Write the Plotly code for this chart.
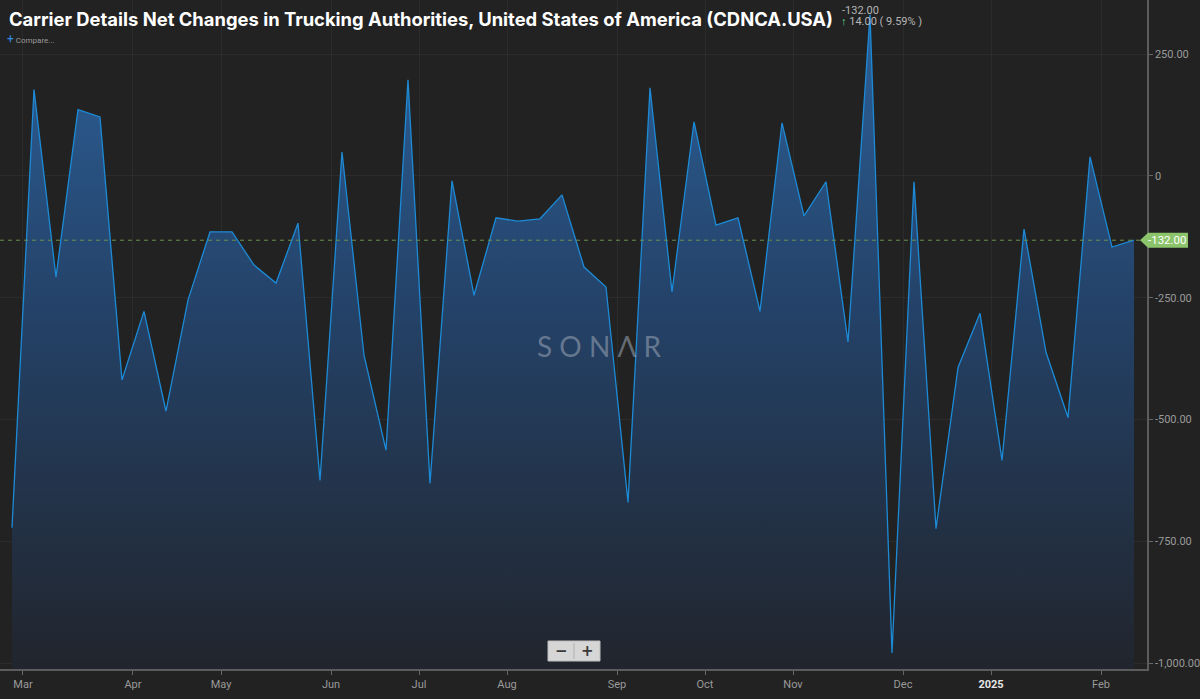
import pandas as pd
import plotly.graph_objects as go

# weekly readings, Fridays from 23 Feb 2024 to 14 Feb 2025
dates = pd.date_range("2024-02-23", "2025-02-14", freq="7D")
net_changes = [
    -722, 177, -208, 136, 121, -419, -278, -483, -255, -115,
    -115, -183, -220, -97, -625, 49, -368, -563, 197, -631,
    -10, -245, -86, -93, -88, -39, -187, -228, -670, 181,
    -238, 111, -101, -86, -278, 109, -82, -12, -341, 331,
    -979, -12, -724, -393, -282, -584, -109, -362, -496, 39,
    -146, -132,
]
y_ticks = [250, 0, -250, -500, -750, -1000]
y_tick_text = ["250.00", "0", "-250.00", "-500.00", "-750.00", "-1,000.00"]

last_val = net_changes[-1]
prev_val = net_changes[-2]
change = last_val - prev_val
pct = abs(change / prev_val) * 100

y_range = [-1012, 361]
x_idx = list(range(len(dates)))

# month ticks sit halfway between last point of a month and first of the next
tick_vals, tick_text = [], []
for i in range(1, len(dates)):
    if dates[i].month != dates[i - 1].month:
        tick_vals.append(i - 0.5)
        if dates[i].month == 1:
            tick_text.append("<b><span style='color:#e6e6e6'>%d</span></b>" % dates[i].year)
        else:
            tick_text.append(dates[i].strftime("%b"))

fig = go.Figure()

# baseline at the bottom of the plot so the area fills down to the axis
fig.add_trace(go.Scatter(
    x=x_idx, y=[y_range[0]] * len(x_idx), mode="lines",
    line=dict(width=0), hoverinfo="skip", showlegend=False,
))
fig.add_trace(go.Scatter(
    x=x_idx, y=net_changes, mode="lines",
    line=dict(color="#1c8ad6", width=1.3),
    fill="tonexty",
    fillgradient=dict(
        type="vertical",
        start=y_range[0], stop=max(net_changes),
        colorscale=[[0, "rgb(33,37,45)"], [0.55, "rgb(36,66,104)"], [1, "rgb(44,96,152)"]],
    ),
    showlegend=False,
))

# last value reference line + tag
fig.add_shape(type="line", xref="paper", x0=0, x1=1, yref="y", y0=last_val, y1=last_val,
              line=dict(color="#6b8f4c", width=1, dash="4px,4px"), layer="above")
fig.add_shape(type="path", xref="paper", xsizemode="pixel", xanchor=1,
              yref="y", ysizemode="pixel", yanchor=last_val,
              path="M -7,0 L 1,7.5 L 41,7.5 L 41,-7.5 L 1,-7.5 Z",
              fillcolor="#8cc46c", line=dict(width=0), layer="above")
fig.add_annotation(xref="paper", x=1, xanchor="left", xshift=-1, yref="y", y=last_val,
                   yanchor="middle", text="%.2f" % last_val, showarrow=False,
                   font=dict(family="Roboto", size=11.5, color="#ffffff"))

# zoom buttons
fig.add_shape(type="rect", xref="paper", yref="paper",
              x0=548 / 1147, x1=600 / 1147, y0=1 - 661 / 669, y1=1 - 641 / 669,
              fillcolor="#d6d6d6", line=dict(color="#bdbdbd", width=1), layer="above")
fig.add_shape(type="line", xref="paper", yref="paper",
              x0=574 / 1147, x1=574 / 1147, y0=1 - 659 / 669, y1=1 - 643 / 669,
              line=dict(color="#b0b0b0", width=1), layer="above")
for txt, px in [("\u2212", 561), ("+", 587)]:
    fig.add_annotation(xref="paper", yref="paper", x=px / 1147, y=1 - 651 / 669,
                       xanchor="center", yanchor="middle",
                       text="<b>%s</b>" % txt, showarrow=False,
                       font=dict(family="DejaVu Sans", size=15, color="#3a3a3a"))

# watermark
fig.add_annotation(xref="paper", yref="paper", x=599 / 1147, y=1 - 346 / 669,
                   xanchor="center", yanchor="middle",
                   text="S O N \u039b R", showarrow=False,
                   font=dict(family="Lato", size=28, color="rgba(160,170,185,0.55)"))

# title block
fig.add_annotation(xref="paper", yref="paper", x=7 / 1147, y=1 - 6 / 669,
                   xanchor="left", yanchor="top", showarrow=False,
                   text="<b>Carrier Details Net Changes in Trucking Authorities, United States of America (CDNCA.USA)</b>",
                   font=dict(family="Inter", size=18.4, color="#ffffff"))
fig.add_annotation(xref="paper", yref="paper", x=840 / 1147, y=1 - 2 / 669,
                   xanchor="left", yanchor="top", showarrow=False,
                   text="%.2f" % last_val,
                   font=dict(family="Roboto", size=11, color="#b5b5b5"))
fig.add_annotation(xref="paper", yref="paper", x=839 / 1147, y=1 - 13 / 669,
                   xanchor="left", yanchor="top", showarrow=False,
                   text="<span style='color:#5fd38d'>\u2191</span> %.2f ( %.2f%% )" % (change, pct),
                   font=dict(family="Roboto", size=11, color="#b5b5b5"))
fig.add_annotation(xref="paper", yref="paper", x=5 / 1147, y=1 - 30 / 669,
                   xanchor="left", yanchor="top", showarrow=False,
                   text="<span style='color:#2f8ee0;font-size:12px'>+</span> Compare...",
                   font=dict(family="Roboto", size=8, color="#9a9a9a"))

fig.update_layout(
    width=1200, height=699,
    margin=dict(l=0, r=53, t=0, b=30),
    paper_bgcolor="#222222", plot_bgcolor="#222222",
    xaxis=dict(
        range=[-0.545, 51.59], tickvals=tick_vals, ticktext=tick_text,
        showgrid=True, gridcolor="#2c2c2c", zeroline=False,
        showline=True, linecolor="#5c5c5c", linewidth=1.5,
        ticks="outside", ticklen=4, tickcolor="#666666",
        tickfont=dict(family="Roboto", size=11, color="#9a9a9a"),
        automargin=False,
    ),
    yaxis=dict(
        range=y_range, side="right", tickvals=y_ticks, ticktext=y_tick_text,
        showgrid=True, gridcolor="#2c2c2c", zeroline=False,
        showline=True, linecolor="#5c5c5c", linewidth=1.5,
        ticks="outside", ticklen=4, tickcolor="#666666",
        tickfont=dict(family="Roboto", size=11, color="#9a9a9a"),
        automargin=False,
    ),
)

# drop the browser's default body margin so the chart sits at the page corner
fig.write_html("out.html", config={"displayModeBar": False},
               post_script="document.body.style.margin='0';document.body.style.background='#222222';")
